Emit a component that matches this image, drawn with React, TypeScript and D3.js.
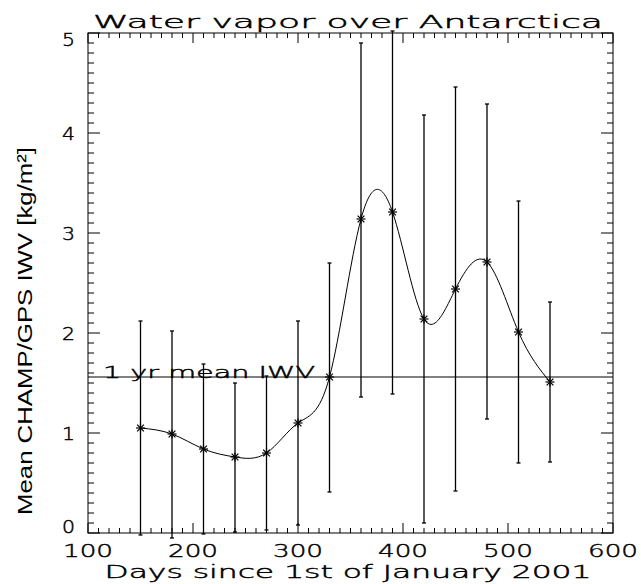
import React from "react";
import * as d3 from "d3";

const days = [150, 180, 210, 240, 270, 300, 330, 360, 390, 420, 450, 480, 510, 540];
const iwv = [1.05, 0.99, 0.84, 0.76, 0.8, 1.1, 1.56, 3.14, 3.21, 2.14, 2.44, 2.71, 2.01, 1.51];
const errTop = [2.12, 2.02, 1.69, 1.5, 1.57, 2.12, 2.7, 4.9, 5.02, 4.18, 4.46, 4.29, 3.32, 2.31];
const errBottom = [-0.02, -0.05, -0.01, 0.01, 0.03, 0.08, 0.41, 1.36, 1.39, 0.1, 0.42, 1.14, 0.7, 0.71];
const meanIWV = 1.56;
const xTicks = [100, 200, 300, 400, 500, 600];
const yTicks = [0, 1, 2, 3, 4, 5];
const title = "Water vapor over Antarctica";
const xTitle = "Days since 1st of January  2001";
const yTitle = "Mean CHAMP/GPS IWV [kg/m\u00B2]";
const meanLabel = "1 yr mean IWV";

const W = 641;
const H = 584;
const L = 88, R = 613, T = 33, B = 533;
const FONT = "'DejaVu Sans', sans-serif";
const thin = { fontFamily: FONT, fontWeight: 200, stroke: "#000", strokeWidth: 0.45, fill: "#000" } as const;

export default function App() {
  const x = d3.scaleLinear().domain([100, 600]).range([L, R]);
  const y = d3.scaleLinear().domain([0, 5]).range([B, T]);
  const line = d3
    .line<number>()
    .x((_, i) => x(days[i]))
    .y((d) => y(d))
    .curve(d3.curveNatural);

  const xMinor = d3.range(100, 601, 10);
  const yMinor = d3.range(0, 5.001, 0.1);
  const star = 4.5;
  // label centre relative to its tick (IDL keeps end labels inside the box)
  const yLabelBaseline = (v: number) => {
    if (v === 0) return y(v);
    if (v === 5) return y(v) + 13;
    return y(v) + 6.5;
  };

  return (
    <svg
      width={W}
      height={H}
      style={{ position: "absolute", left: 0, top: 0, background: "#fff" }}
    >
      <rect x={0} y={0} width={W} height={H} fill="#fff" />
      {/* frame */}
      <rect x={L} y={T} width={R - L} height={B - T} fill="none" stroke="#000" strokeWidth={1} />
      {/* x ticks */}
      {xMinor.map((v) => {
        const major = Math.abs(v % 100) < 1e-6;
        const len = major ? 10 : 5;
        return (
          <g key={"xt" + v}>
            <line x1={x(v)} x2={x(v)} y1={B} y2={B - len} stroke="#000" strokeWidth={1} />
            <line x1={x(v)} x2={x(v)} y1={T} y2={T + len} stroke="#000" strokeWidth={1} />
          </g>
        );
      })}
      {/* y ticks */}
      {yMinor.map((v, i) => {
        const major = i % 10 === 0;
        const len = major ? 12 : 6;
        return (
          <g key={"yt" + i}>
            <line x1={L} x2={L + len} y1={y(v)} y2={y(v)} stroke="#000" strokeWidth={1} />
            <line x1={R} x2={R - len} y1={y(v)} y2={y(v)} stroke="#000" strokeWidth={1} />
          </g>
        );
      })}
      {/* x tick labels */}
      {xTicks.map((v) => (
        <text
          key={"xl" + v}
          x={x(v)}
          y={557}
          textAnchor="middle"
          {...thin}
          fontSize={18.5}
          textLength={50}
          lengthAdjust="spacingAndGlyphs"
        >
          {v}
        </text>
      ))}
      {/* y tick labels */}
      {yTicks.map((v) => (
        <text
          key={"yl" + v}
          x={75}
          y={yLabelBaseline(v)}
          textAnchor="end"
          {...thin}
          fontSize={17}
          textLength={13}
          lengthAdjust="spacingAndGlyphs"
        >
          {v}
        </text>
      ))}
      {/* title */}
      <text
        x={348}
        y={28}
        textAnchor="middle"
        {...thin}
        fontSize={18}
        textLength={510}
        lengthAdjust="spacingAndGlyphs"
      >
        {title}
      </text>
      {/* x title */}
      <text
        x={348}
        y={578}
        textAnchor="middle"
        {...thin}
        fontSize={17.5}
        textLength={487}
        lengthAdjust="spacingAndGlyphs"
      >
        {xTitle}
      </text>
      {/* y title */}
      <text
        transform={`translate(32,331) rotate(-90)`}
        textAnchor="middle"
        fontFamily="'Liberation Sans Narrow', 'Liberation Sans', sans-serif"
        fontSize={21}
        textLength={368}
        lengthAdjust="spacingAndGlyphs"
      >
        {yTitle}
      </text>
      {/* mean line */}
      <line x1={L} x2={R} y1={y(meanIWV)} y2={y(meanIWV)} stroke="#000" strokeWidth={1} />
      <text
        x={103}
        y={y(meanIWV) + 1}
        {...thin}
        fontSize={16.5}
        textLength={212}
        lengthAdjust="spacingAndGlyphs"
      >
        {meanLabel}
      </text>
      {/* error bars */}
      {days.map((d, i) => (
        <g key={"e" + d} stroke="#000" strokeWidth={1.3}>
          <line x1={x(d)} x2={x(d)} y1={y(errTop[i])} y2={y(errBottom[i])} />
          <line x1={x(d) - 2} x2={x(d) + 2} y1={y(errTop[i])} y2={y(errTop[i])} />
          <line x1={x(d) - 2} x2={x(d) + 2} y1={y(errBottom[i])} y2={y(errBottom[i])} />
        </g>
      ))}
      {/* spline */}
      <path d={line(iwv) || ""} fill="none" stroke="#000" strokeWidth={1} />
      {/* markers */}
      {days.map((d, i) => {
        const cx = x(d), cy = y(iwv[i]);
        return (
          <g key={"m" + d} stroke="#000" strokeWidth={1.2}>
            <line x1={cx - star} x2={cx + star} y1={cy} y2={cy} />
            <line x1={cx} x2={cx} y1={cy - star} y2={cy + star} />
            <line x1={cx - star * 0.75} x2={cx + star * 0.75} y1={cy - star * 0.75} y2={cy + star * 0.75} />
            <line x1={cx - star * 0.75} x2={cx + star * 0.75} y1={cy + star * 0.75} y2={cy - star * 0.75} />
          </g>
        );
      })}
    </svg>
  );
}
